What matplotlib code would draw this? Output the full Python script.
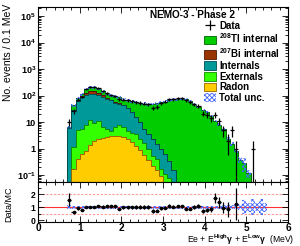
import numpy as np
import matplotlib
matplotlib.use("Agg")
import matplotlib.pyplot as plt
from matplotlib.patches import Patch
from matplotlib.lines import Line2D
from matplotlib.ticker import MultipleLocator, LogLocator, FixedLocator, FuncFormatter, NullFormatter

plt.rcParams["font.family"] = ["Liberation Sans", "DejaVu Sans"]
plt.rcParams["font.weight"] = "bold"
plt.rcParams["mathtext.fontset"] = "custom"
plt.rcParams["mathtext.rm"] = "Liberation Sans:bold"
plt.rcParams["mathtext.bf"] = "Liberation Sans:bold"
plt.rcParams["mathtext.it"] = "Liberation Sans:bold"
plt.rcParams["mathtext.default"] = "bf"
plt.rcParams["hatch.linewidth"] = 0.6

# 0.1 MeV bins, 0.7 -> 5.5 MeV
edges = np.round(np.arange(0.7, 5.51, 0.1), 2)
centers = edges[:-1] + 0.05

radon = [0, 0.17, 0.4, 0.63, 0.83, 1.4, 2.0, 2.3, 2.6, 2.8, 2.9, 3.0, 2.9, 2.7, 2.3, 1.8,
         1.3, 0.9, 0.6, 0.38, 0.23, 0.15, 0.09, 0.05, 0.02, 0.01, 0, 0, 0, 0, 0, 0,
         0, 0, 0, 0, 0, 0, 0, 0, 0, 0, 0, 0, 0, 0, 0, 0]
externals = [0, 1.0, 4.7, 5.0, 6.7, 10.9, 7.2, 8.3, 3.8, 2.8, 1.9, 3.4, 4.6, 3.7, 2.5, 2.2,
             2.3, 1.4, 1.1, 0.6, 0.31, 0.27, 0.08, 0.06, 0.06, 0.03, 0, 0, 0, 0, 0, 0,
             0, 0, 0, 0, 0, 0, 0, 0, 0, 0, 0, 0, 0, 0, 0, 0]
internals = [6, 26.8, 57, 84, 102, 104, 104, 92, 83, 71, 61, 48, 42, 37, 29, 20,
             12.4, 7.7, 3.9, 2.6, 1.8, 1.1, 0.83, 0.52, 0.27, 0.12, 0.03, 0, 0, 0, 0, 0,
             0, 0, 0, 0, 0, 0, 0, 0, 0, 0, 0, 0, 0, 0, 0, 0]
bi207 = [0.1, 1, 3, 8, 20, 28, 30, 26, 15, 7, 3, 1.5, 0.8, 0.5, 0.3, 0.2,
         0.1, 0.05, 0.03, 0.02, 0.01, 0, 0, 0, 0, 0, 0, 0, 0, 0, 0, 0,
         0, 0, 0, 0, 0, 0, 0, 0, 0, 0, 0, 0, 0, 0, 0, 0]
tl208 = [0.2, 14, 14, 16, 48, 61, 61, 52, 40, 30, 30, 36, 36, 27, 32, 37,
         40, 43, 44, 43, 46, 50, 55, 59, 66, 71, 73, 74, 74, 64, 46, 38,
         29, 24, 17, 11, 8, 5.3, 2.4, 1.5, 0.8, 0.38, 0.28, 0.12, 0.03, 0.02, 0.015, 0.01]
data = [10, 26, 71, 89, 175, 214, 214, 190, 151, 120, 104, 97, 73, 71, 66, 61,
        56, 53, 50, 47, 34, 37, 51, 58, 73, 73, 78, 78, 66, 55, 47, 41,
        21, 19, 14, 19, 11, 5, 2, 5, 1, 0, 0, 0, 1, 0, 0, 0]
rel_unc = [0.13, 0.12, 0.12, 0.12, 0.11, 0.11, 0.11, 0.11, 0.11, 0.11, 0.11, 0.11, 0.11, 0.11, 0.11, 0.11,
           0.11, 0.11, 0.11, 0.11, 0.11, 0.11, 0.11, 0.11, 0.11, 0.11, 0.11, 0.11, 0.11, 0.11, 0.11, 0.11,
           0.11, 0.11, 0.12, 0.12, 0.12, 0.13, 0.14, 0.15, 0.16, 0.25, 0.55, 0.35, 0.6, 0.3, 0.6, 0.35]

labels = ["Data", r"$^{208}$Tl internal", r"$^{207}$Bi internal", "Internals", "Externals", "Radon", "Total unc."]
colors = ["#00cc00", "#993300", "#009999", "#33ff00", "#ffcc00"]   # Tl, Bi, Int, Ext, Rn
lines = ["#006600", "#4d1a00", "#004d4d", "#118800", "#996600"]
band_col = "#4466ff"

# stack from the bottom: radon, externals, internals, bi207, tl208
comps = [np.array(radon), np.array(externals), np.array(internals), np.array(bi207), np.array(tl208)]
cum = np.cumsum(comps, axis=0)
total = cum[-1]
data = np.array(data, dtype=float)
rel_unc = np.array(rel_unc)

fig = plt.figure(figsize=(3.0, 2.46), dpi=100)
ax = fig.add_axes([0.127, 0.26, 0.833, 0.712])
rx = fig.add_axes([0.127, 0.0976, 0.833, 0.1624])

base = 1e-3
# draw cumulative totals from the top down, each over the previous one
for k in range(4, -1, -1):
    ax.stairs(np.maximum(cum[k], base), edges, baseline=base, fill=True,
              color=colors[4 - k], zorder=2)
    ax.stairs(np.maximum(cum[k], base), edges, baseline=base, fill=False,
              color=lines[4 - k], lw=0.7, zorder=3)

lo = np.append(total * (1 - rel_unc), 0)
hi = np.append(total * (1 + rel_unc), 0)
lo[-1], hi[-1] = lo[-2], hi[-2]
ax.fill_between(edges, np.maximum(lo, base), np.maximum(hi, base), step="post",
                facecolor="none", edgecolor=band_col, hatch="xxxxxxx", lw=0, zorder=4)

m = data > 0
err_lo = np.minimum(np.sqrt(data[m]), data[m] - 1e-3)
ax.errorbar(centers[m], data[m], yerr=[err_lo, np.sqrt(data[m])], xerr=0.05,
            fmt="none", ecolor="k", elinewidth=0.9, capsize=0, zorder=5)

ax.set_yscale("log")
ax.set_xlim(0, 6)
ax.set_ylim(0.055, 2.2e5)
ax.yaxis.set_major_locator(LogLocator(base=10, numticks=20))
ax.yaxis.set_minor_locator(LogLocator(base=10, subs=np.arange(2, 10), numticks=20))
ax.yaxis.set_minor_formatter(NullFormatter())


def fmt_log(v, pos):
    e = int(round(np.log10(v)))
    if e == 0:
        return "1"
    if e == 1:
        return "10"
    return r"$10^{%d}$" % e


ax.yaxis.set_major_formatter(FuncFormatter(fmt_log))
ax.xaxis.set_major_locator(MultipleLocator(1))
ax.xaxis.set_minor_locator(MultipleLocator(0.2))
ax.tick_params(axis="x", labelbottom=False)
ax.set_ylabel("No. events / 0.1 MeV", fontsize=7.5, loc="top")
ax.yaxis.set_label_coords(-0.1, 1.02)

ax.text(0.448, 0.952, "NEMO-3 - Phase 2", transform=ax.transAxes, fontsize=7.2, va="center", ha="left")

handles = [Line2D([], [], color="k", marker="+", ls="none", ms=7, mew=0.9)]
for c, l in zip(colors, lines):
    handles.append(Patch(facecolor=c, edgecolor=l, lw=0.6))
handles.append(Patch(facecolor="white", edgecolor=band_col, hatch="xxxxxxx", lw=0))
ax.legend(handles, labels, loc="upper left", bbox_to_anchor=(0.665, 0.92), frameon=False,
          fontsize=7, handlelength=1.25, handleheight=1.0, handletextpad=0.3,
          labelspacing=0.08, borderaxespad=0, borderpad=0)

# ratio panel
ratio = np.where(total > 0, data / np.where(total > 0, total, 1), 0)
rlo = np.append(1 - rel_unc, 1 - rel_unc[-1])
rhi = np.append(1 + rel_unc, 1 + rel_unc[-1])
rx.fill_between(edges, rlo, rhi, step="post", facecolor="none", edgecolor=band_col,
                hatch="xxxxxxx", lw=0, zorder=2)
rx.axhline(1, color="#ff3333", lw=0.8, zorder=1)
rx.axhline(2, color="#ff9999", lw=0.8, ls=(0, (2, 1.5)), zorder=1)
rx.axhline(0.5, color="#ff9999", lw=0.8, ls=(0, (2, 1.5)), zorder=1)
rm = (data > 0) & (ratio < 2.9)
rerr = np.sqrt(data[rm]) / total[rm]
rx.errorbar(centers[rm], ratio[rm], yerr=[np.minimum(rerr, ratio[rm] + 0.3), rerr], xerr=0.05,
            fmt="o", ms=1.6, color="k", ecolor="k", elinewidth=0.9, capsize=0, zorder=5)
rx.set_xlim(0, 6)
rx.set_ylim(-0.15, 2.95)
rx.yaxis.set_major_locator(FixedLocator([0, 1, 2]))
rx.yaxis.set_minor_locator(MultipleLocator(0.5))
rx.xaxis.set_major_locator(MultipleLocator(1))
rx.xaxis.set_minor_locator(MultipleLocator(0.2))
rx.set_ylabel("Data/MC", fontsize=6.5)
rx.yaxis.set_label_coords(-0.1, 0.45)
rx.set_xlabel(r"Ee + E$^{High}$$\gamma$ + E$^{Low}$$\gamma$  (MeV)", fontsize=6.2, loc="right")
rx.xaxis.set_label_coords(1.025, -0.265)

for a in (ax, rx):
    a.tick_params(which="both", direction="in", top=True, right=True, width=0.6)
    a.tick_params(which="major", length=4.5)
    a.tick_params(which="minor", length=2.2)
    for s in a.spines.values():
        s.set_linewidth(0.8)
ax.tick_params(axis="y", labelsize=6.5, pad=1.5)
rx.tick_params(axis="y", labelsize=6.2, pad=2)
rx.tick_params(axis="x", labelsize=7.2, pad=1)

fig.savefig("out.png", dpi=100)
